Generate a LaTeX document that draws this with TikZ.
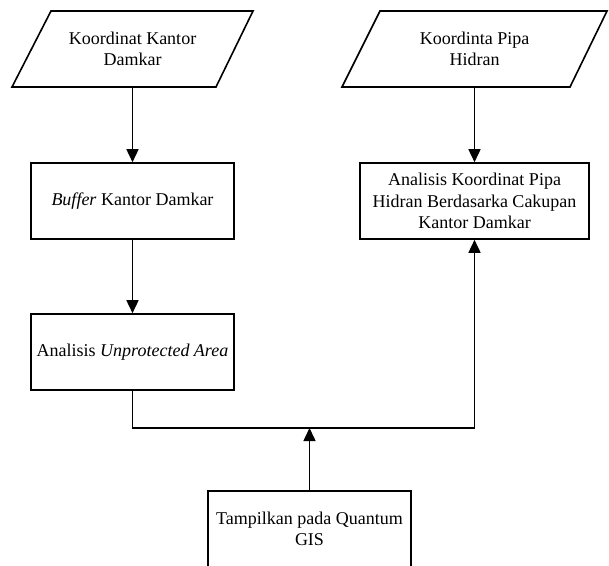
\documentclass[tikz,border=0pt]{standalone}
\usepackage{fontspec}
\setmainfont{LiberationSerif-Regular.ttf}[ItalicFont=LiberationSerif-Italic.ttf,BoldFont=LiberationSerif-Bold.ttf]
\usetikzlibrary{arrows.meta}
\begin{document}
\begin{tikzpicture}[x=1pt,y=-1pt,line width=1.6pt,
  txt/.style={align=center,font=\rmfamily\fontsize{18}{21.5}\selectfont,inner sep=1pt},
  box/.style={txt,draw,rectangle,minimum width=203pt,minimum height=76pt},
  para/.style={txt,minimum height=76pt},
  arr/.style={-{Triangle[length=13pt,width=12pt]}}]
\useasboundingbox (0,0) rectangle (609,565);
\clip (0,0) rectangle (609,565);
% input parallelograms
\node[para] (p1) at (132.5,49) {Koordinat Kantor\\Damkar};
\draw (51,11) -- (253,11) -- (216,87) -- (12,87) -- cycle;
\node[para] (p2) at (474.5,49) {Koordinta Pipa\\Hidran};
\draw (380,11) -- (607,11) -- (570,87) -- (342,87) -- cycle;
% process boxes
\node[box] (buf) at (132.5,201) {\textit{Buffer} Kantor Damkar};
\node[box,minimum width=229pt] (ana) at (474.5,201) {Analisis Koordinat Pipa\\Hidran Berdasarka Cakupan\\Kantor Damkar};
\node[box] (unp) at (132.5,352) {Analisis \textit{Unprotected Area}};
\node[box] (qgis) at (309.5,529) {Tampilkan pada Quantum\\GIS};
\coordinate (j) at (309.5,428);
% connectors
\draw[arr] (p1.south) -- (buf.north);
\draw[arr] (p2.south) -- (ana.north);
\draw[arr] (buf.south) -- (unp.north);
\draw[arr] (unp.south) |- (j) -| (ana.south);
\draw[arr] (qgis.north) -- (j);
\end{tikzpicture}
\end{document}
